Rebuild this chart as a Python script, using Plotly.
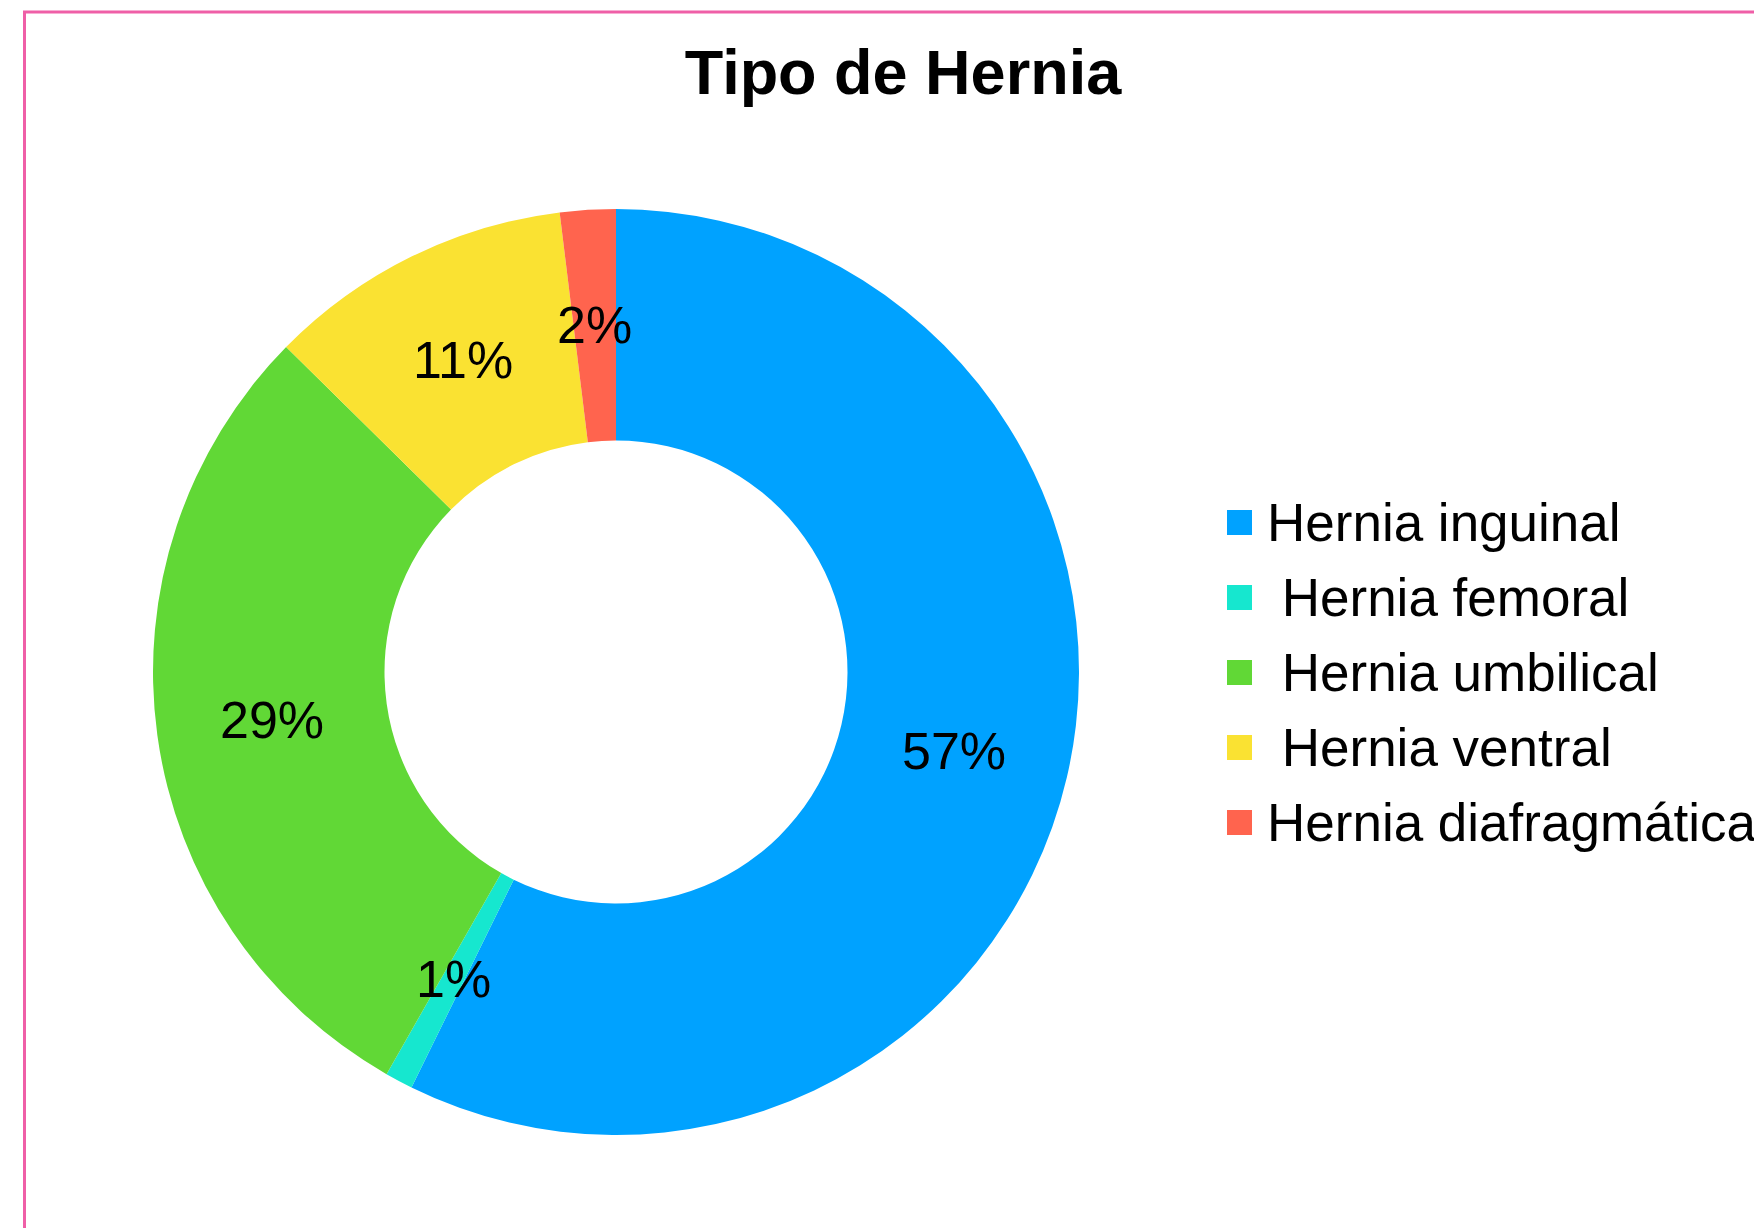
import math
import plotly.graph_objects as go

# ---- data ----
categories = ["Hernia inguinal", "Hernia femoral", "Hernia umbilical", "Hernia ventral", "Hernia diafragmática"]
legend_labels = ["Hernia inguinal", "\u00a0Hernia femoral", "\u00a0Hernia umbilical", "\u00a0Hernia ventral", "Hernia diafragmática"]
values = [59, 1, 30, 11, 2]   # counts (57%, 1%, 29%, 11%, 2%)
colors = ["#00A2FF", "#16E7CF", "#61D836", "#FAE232", "#FF644E"]
title_text = "Tipo de Hernia"

W, H = 1762, 1228
OFF = 8  # default page body margin
FONT = "Liberation Sans, Arial, sans-serif"

def px(x):
    return (x - OFF) / W

def py(y):
    return 1 - (y - OFF) / H

# pie geometry (window pixels)
cx, cy, R, HOLE = 616, 672, 463, 0.5

fig = go.Figure()
fig.add_trace(go.Pie(
    labels=categories,
    values=values,
    marker=dict(colors=colors, line=dict(width=0)),
    hole=HOLE,
    sort=False,
    direction="clockwise",
    rotation=0,
    textinfo="none",
    showlegend=False,
    hoverinfo="label+percent",
    domain=dict(x=[px(cx - R), px(cx + R)], y=[py(cy + R), py(cy - R)]),
))

# percentage labels at the middle of each ring segment (derived from the values)
total = sum(values)
cum = 0
rmid = R * (1 + HOLE) / 2
for v in values:
    theta = 2 * math.pi * (cum + v / 2) / total
    cum += v
    lx = cx + rmid * math.sin(theta)
    ly = cy - rmid * math.cos(theta)
    fig.add_annotation(xref="paper", yref="paper", x=px(lx), y=py(ly),
                       xanchor="center", yanchor="middle",
                       text=f"{round(100 * v / total)}%", showarrow=False,
                       font=dict(family=FONT, size=52, color="black"))

# border of the chart area (extends beyond right/bottom edges)
fig.add_shape(type="rect", xref="paper", yref="paper",
              x0=px(24.5), x1=1.02, y0=-0.02, y1=py(12),
              line=dict(color="#EF5FA7", width=3), fillcolor="rgba(0,0,0,0)", layer="above")

# legend built from the category list
sq = 25
row0, gap = 522.5, 75
for i, (lab, col) in enumerate(zip(legend_labels, colors)):
    yc = row0 + i * gap
    fig.add_shape(type="rect", xref="paper", yref="paper",
                  x0=px(1227), x1=px(1227 + sq), y0=py(yc + sq / 2), y1=py(yc - sq / 2),
                  line=dict(width=0), fillcolor=col)
    fig.add_annotation(xref="paper", yref="paper", x=px(1265), y=py(yc),
                       xanchor="left", yanchor="middle", text=lab, showarrow=False,
                       font=dict(family=FONT, size=53, color="black"))

fig.update_layout(
    width=W, height=H,
    margin=dict(l=0, r=0, t=0, b=0),
    paper_bgcolor="white",
    plot_bgcolor="white",
    title=dict(text="<b>" + title_text + "</b>", x=px(903), xanchor="center",
               y=py(72), yanchor="middle",
               font=dict(family=FONT, size=63, color="black")),
)

fig.write_html("out.html")
